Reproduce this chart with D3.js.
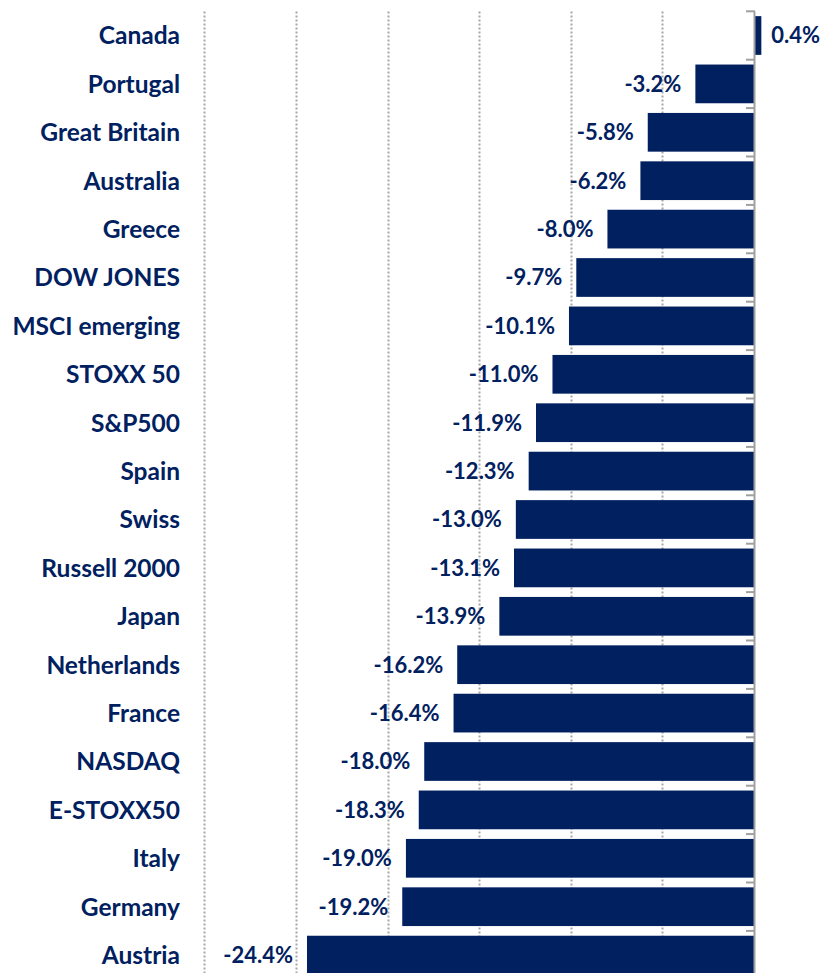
<!DOCTYPE html>
<html>
<head>
<meta charset="utf-8">
<script src="https://cdn.jsdelivr.net/npm/d3@7"></script>
<style>
  html, body { margin: 0; padding: 0; background: #ffffff; }
  svg { display: block; }
</style>
</head>
<body>
<svg id="chart" width="827" height="973"></svg>
<script>
const categories = ["Canada","Portugal","Great Britain","Australia","Greece","DOW JONES","MSCI emerging","STOXX 50","S&P500","Spain","Swiss","Russell 2000","Japan","Netherlands","France","NASDAQ","E-STOXX50","Italy","Germany","Austria"];
const values = [0.4,-3.2,-5.8,-6.2,-8.0,-9.7,-10.1,-11.0,-11.9,-12.3,-13.0,-13.1,-13.9,-16.2,-16.4,-18.0,-18.3,-19.0,-19.2,-24.4];
const gridTicks = [-30,-25,-20,-15,-10,-5];

(function () {
const navy = "#002060";
const font = "Lato, 'Open Sans', sans-serif";

const svg = d3.select("#chart");

const x = d3.scaleLinear().domain([-30, 0]).range([204.4, 754]);
const y = d3.scaleBand().domain(categories).range([11.3, 979.3]).paddingInner(0.2).paddingOuter(0.1);

const yTop = 11.5, yBottom = 973;

// dotted gridlines
svg.append("g").selectAll("line").data(gridTicks).join("line")
  .attr("x1", d => Math.round(x(d)) + 0.5).attr("x2", d => Math.round(x(d)) + 0.5)
  .attr("y1", yTop).attr("y2", yBottom)
  .attr("stroke", "#a6a6a6").attr("stroke-width", 2).attr("stroke-dasharray", "2,2");

// bars
svg.append("g").selectAll("rect").data(values).join("rect")
  .attr("x", (d) => x(Math.min(0, d)))
  .attr("width", d => Math.abs(x(d) - x(0)))
  .attr("y", (d, i) => y(categories[i]))
  .attr("height", y.bandwidth())
  .attr("fill", navy);

// zero axis with band-boundary ticks
const step = y.step();
const boundaries = d3.range(categories.length + 1).map(i => y(categories[0]) - step * 0.1 + i * step);
const axisG = svg.append("g");
axisG.append("line")
  .attr("x1", x(0) + 0.5).attr("x2", x(0) + 0.5)
  .attr("y1", yTop).attr("y2", yBottom)
  .attr("stroke", "#a0a0a0").attr("stroke-width", 2);
axisG.selectAll("line.tick").data(boundaries).join("line").attr("class", "tick")
  .attr("x1", x(0) - 8).attr("x2", x(0) + 1)
  .attr("y1", d => d).attr("y2", d => d)
  .attr("stroke", "#a0a0a0").attr("stroke-width", 2);

// category labels
svg.append("g").selectAll("text").data(categories).join("text")
  .attr("x", 180)
  .attr("y", d => y(d) + y.bandwidth() / 2)
  .attr("dy", "0.36em")
  .attr("text-anchor", "end")
  .attr("font-family", font).attr("font-weight", 700).attr("font-size", 24.5)
  .attr("fill", navy)
  .text(d => d);

// value labels
svg.append("g").selectAll("text").data(values).join("text")
  .attr("x", d => d >= 0 ? x(d) + 10 : x(d) - 14)
  .attr("y", (d, i) => y(categories[i]) + y.bandwidth() / 2)
  .attr("dy", "0.36em")
  .attr("text-anchor", d => d >= 0 ? "start" : "end")
  .attr("font-family", font).attr("font-weight", 700).attr("font-size", 22)
  .attr("fill", navy)
  .text(d => d.toFixed(1) + "%");
})();
</script>
</body>
</html>
